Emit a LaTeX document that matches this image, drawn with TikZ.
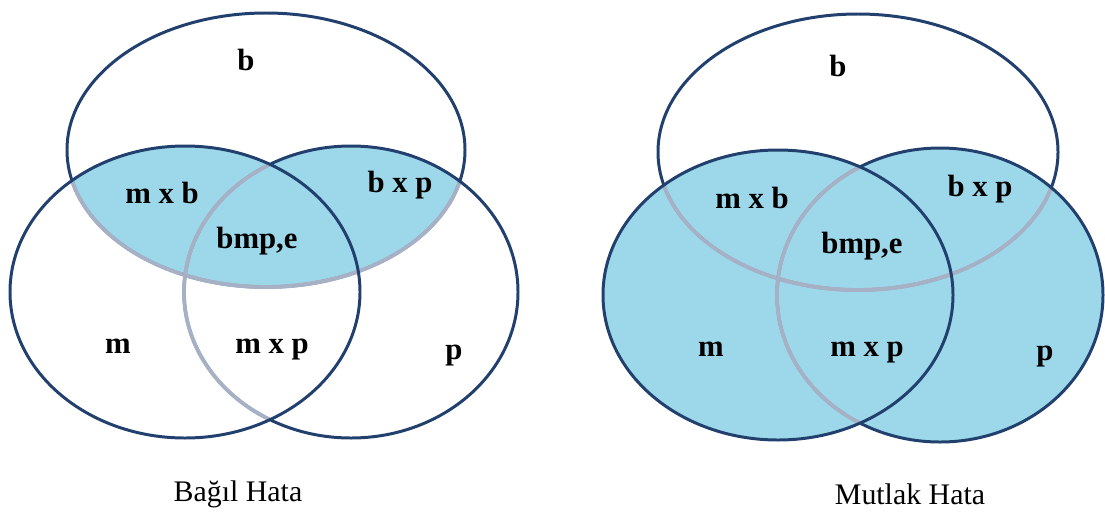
\documentclass[tikz,border=0pt]{standalone}
\usepackage{fontspec}
\setmainfont{Liberation Serif}
\definecolor{vennblue}{HTML}{9DD8EA}
\definecolor{rimnavy}{HTML}{22406E}
\definecolor{rimgray}{HTML}{A6B1C5}

\begin{document}
\begin{tikzpicture}[
    x=0.02cm, y=-0.02cm,
    rim/.style={draw=rimnavy, line width=1.7pt},
    rimlight/.style={draw=rimgray, line width=2.2pt},
    setlabel/.style={font=\bfseries\fontsize{17.5}{20}\selectfont, text=black},
    caption/.style={font=\fontsize{17}{20}\selectfont, text=black},
]
\useasboundingbox (0,0) rectangle (1105,511);

% Centres of the sets
\coordinate (bL) at (266,150);
\coordinate (mL) at (185,292);
\coordinate (pL) at (351,292);
\coordinate (bR) at (858,152);
\coordinate (mR) at (778,295);
\coordinate (pR) at (940,295);

% Left diagram: shaded b with (m or p)
\begin{scope}
    \clip (bL) ellipse [x radius=199, y radius=137];
    \fill[vennblue] (mL) ellipse [x radius=175, y radius=146];
    \fill[vennblue] (pL) ellipse [x radius=167, y radius=146];
\end{scope}
\draw[rim] (bL) ellipse [x radius=199, y radius=137];
\begin{scope}
    \clip (mL) ellipse [x radius=175, y radius=146];
    \draw[rimlight] (bL) ellipse [x radius=199, y radius=137];
\end{scope}
\begin{scope}
    \clip (pL) ellipse [x radius=167, y radius=146];
    \draw[rimlight] (bL) ellipse [x radius=199, y radius=137];
\end{scope}
\draw[rim] (pL) ellipse [x radius=167, y radius=146];
\begin{scope}
    \clip (mL) ellipse [x radius=175, y radius=146];
    \draw[rimlight] (pL) ellipse [x radius=167, y radius=146];
\end{scope}
\draw[rim] (mL) ellipse [x radius=175, y radius=146];

% Right diagram: shaded m or p
\fill[vennblue] (mR) ellipse [x radius=175, y radius=145];
\fill[vennblue] (pR) ellipse [x radius=163, y radius=147];
\draw[rim] (bR) ellipse [x radius=200, y radius=138];
\begin{scope}
    \clip (mR) ellipse [x radius=175, y radius=145];
    \draw[rimlight] (bR) ellipse [x radius=200, y radius=138];
\end{scope}
\begin{scope}
    \clip (pR) ellipse [x radius=163, y radius=147];
    \draw[rimlight] (bR) ellipse [x radius=200, y radius=138];
\end{scope}
\draw[rim] (pR) ellipse [x radius=163, y radius=147];
\begin{scope}
    \clip (mR) ellipse [x radius=175, y radius=145];
    \draw[rimlight] (pR) ellipse [x radius=163, y radius=147];
\end{scope}
\draw[rim] (mR) ellipse [x radius=175, y radius=145];

% Labels, left
\node[setlabel] (bOnlyL) at (246,60) {b};
\node[setlabel] (mbL) at (162,193) {m x b};
\node[setlabel] (bpL) at (400,185) {b x p};
\node[setlabel] (bmpL) at (257,241) {bmp,e};
\node[setlabel] (mOnlyL) at (118,346) {m};
\node[setlabel] (mpL) at (272,350) {m x p};
\node[setlabel] (pOnlyL) at (454,356) {p};

% Labels, right
\node[setlabel] (bOnlyR) at (838,66) {b};
\node[setlabel] (mbR) at (752,198) {m x b};
\node[setlabel] (bpR) at (980,189) {b x p};
\node[setlabel] (bmpR) at (862,246) {bmp,e};
\node[setlabel] (mOnlyR) at (711,349) {m};
\node[setlabel] (mpR) at (867,353) {m x p};
\node[setlabel] (pOnlyR) at (1045,357) {p};

% Captions
\node[caption] (capL) at (238,494) {Bağıl Hata};
\node[caption] (capR) at (910,494) {Mutlak Hata};
\end{tikzpicture}
\end{document}
